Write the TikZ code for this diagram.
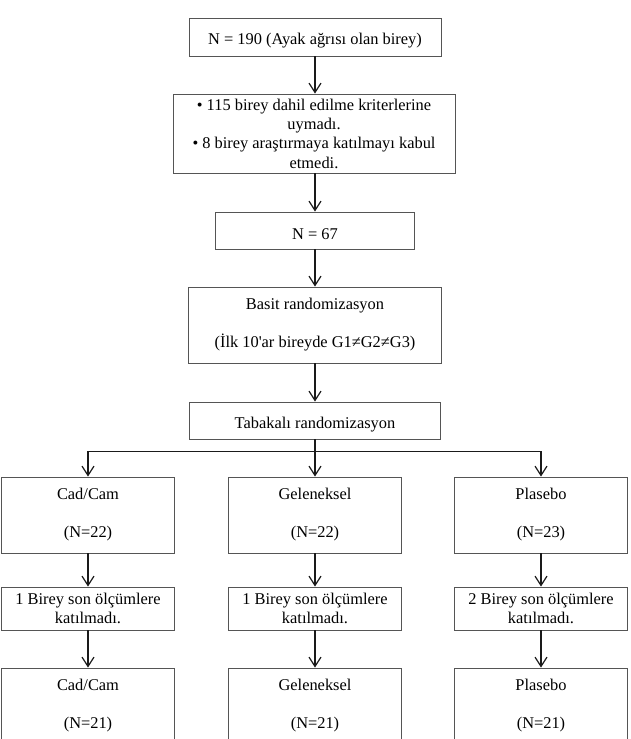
\documentclass[tikz,border=0pt]{standalone}
\usepackage{fontspec}
\setmainfont{Liberation Serif}[Ligatures=TeXOff]
\usetikzlibrary{arrows.meta,positioning}

\begin{document}
\begin{tikzpicture}[x=0.75pt,y=-0.75pt,>={Straight Barb[length=7pt,width=9pt]},
    font=\fontsize{12.3}{14.5}\selectfont,
    box/.style={draw=BoxLine,line width=0.7pt,align=center,inner sep=0pt,
      execute at begin node={\rule{0pt}{14pt}}},
    arr/.style={->,line width=0.9pt,draw=ArrowLine}]
  %--- Theme colors ---
  \definecolor{BoxLine}{HTML}{555555}     % box frames
  \definecolor{ArrowLine}{HTML}{1A1A1A}   % connectors

  \clip (0,0) rectangle (631,739);

  %--- Main column ---
  \node[box,minimum width=189pt,minimum height=28.5pt] (start) at (315,37)
    {N = 190 (Ayak ağrısı olan birey)};
  \node[box,minimum width=211.5pt,minimum height=59.25pt] (excl) at (314,133.5)
    {\textbullet{} 115 birey dahil edilme kriterlerine\\ uymadı.\\
     \textbullet{} 8 birey araştırmaya katılmayı kabul\\ etmedi.};
  \node[box,minimum width=149.25pt,minimum height=27.75pt] (total) at (315,230.5)
    {N = 67};
  \node[box,minimum width=189.75pt,minimum height=57pt] (basit) at (315,325)
    {Basit randomizasyon\\[14pt](İlk 10'ar bireyde G1≠G2≠G3)};
  \node[box,minimum width=188.25pt,minimum height=27.75pt] (tabak) at (315,420.5)
    {Tabakalı randomizasyon};

  %--- Groups ---
  \foreach \name/\x/\grp/\na/\drop/\nb in {cad/88/Cad\slash Cam/22/1/21,
      gel/315/Geleneksel/22/1/21, pla/541/Plasebo/23/2/21} {
    \node[box,minimum width=129.75pt,minimum height=57pt] (\name1) at (\x,515)
      {\grp\\[14pt](N=\na)};
    \node[box,minimum width=129.75pt,minimum height=32.25pt] (\name2) at (\x,608.5)
      {\drop{} Birey son ölçümlere\\ katılmadı.};
    \node[box,minimum width=129.75pt,minimum height=57pt] (\name3) at (\x,706)
      {\grp\\[14pt](N=\nb)};
    \draw[arr] (\name1) -- (\name2);
    \draw[arr] (\name2) -- (\name3);
  }

  %--- Connectors ---
  \draw[arr] (start) -- (start.south |- excl.north);
  \draw[arr] (excl.south -| total) -- (total);
  \draw[arr] (total) -- (basit);
  \draw[arr] (basit) -- (tabak);
  \draw[line width=0.9pt,ArrowLine] (tabak.south) -- ++(0,12) coordinate (split);
  \draw[arr] (split) -| (cad1.north);
  \draw[arr] (split) -- (gel1.north);
  \draw[arr] (split) -| (pla1.north);
\end{tikzpicture}
\end{document}
